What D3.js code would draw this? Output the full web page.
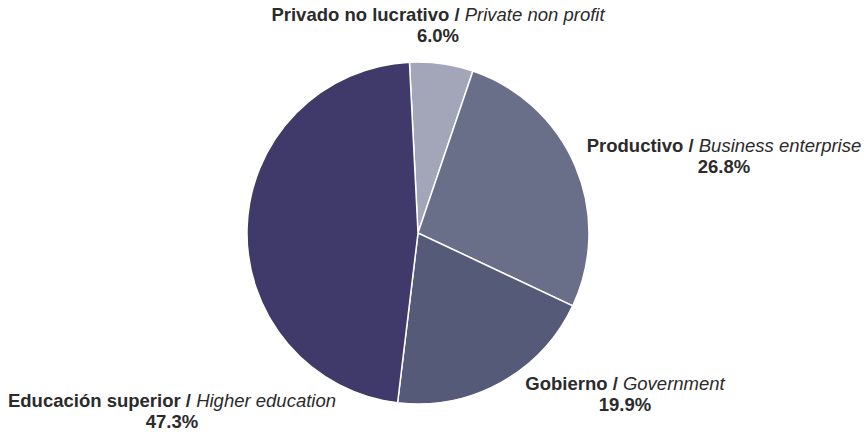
<!DOCTYPE html>
<html><head><meta charset="utf-8">
<script src="https://cdn.jsdelivr.net/npm/d3@7"></script>
<style>body{margin:0;background:#fff}svg{display:block}text{font-family:"Liberation Sans",Arial,sans-serif;fill:#2b2b2b}</style>
</head><body><svg id="c" width="867" height="432"></svg>
<script>
const labelsEs = ["Privado no lucrativo", "Productivo", "Gobierno", "Educación superior"];
const labelsEn = ["Private non profit", "Business enterprise", "Government", "Higher education"];
const values = [6.0, 26.8, 19.9, 47.3];
const colors = ["#a2a6b8", "#6a6f89", "#555a78", "#3f3a69"];
const labelPos = [[438, 21], [724, 152], [625, 390], [172, 407]];

const svg = d3.select("#c");
const cx = 418, cy = 233, r = 171;
const data = values.map((v, i) => ({v, i}));
const pie = d3.pie().value(d => d.v).sort(null).startAngle(-0.05).endAngle(-0.05 + 2 * Math.PI);
const arc = d3.arc().innerRadius(0).outerRadius(r);
const g = svg.append("g").attr("transform", `translate(${cx},${cy})`);
g.selectAll("path").data(pie(data)).join("path")
  .attr("d", arc).attr("fill", d => colors[d.data.i])
  .attr("stroke", "#fff").attr("stroke-width", 1.5);

data.forEach((d, i) => {
  const [x, y] = labelPos[i];
  const t = svg.append("text").attr("x", x).attr("y", y).attr("text-anchor", "middle").attr("font-size", 18.5);
  t.append("tspan").attr("font-weight", "bold").text(labelsEs[i] + " / ");
  t.append("tspan").attr("font-style", "italic").text(labelsEn[i]);
  svg.append("text").attr("x", x).attr("y", y + 21).attr("text-anchor", "middle")
    .attr("font-size", 18.5).attr("font-weight", "bold").text(d.v.toFixed(1) + "%");
});
</script></body></html>
